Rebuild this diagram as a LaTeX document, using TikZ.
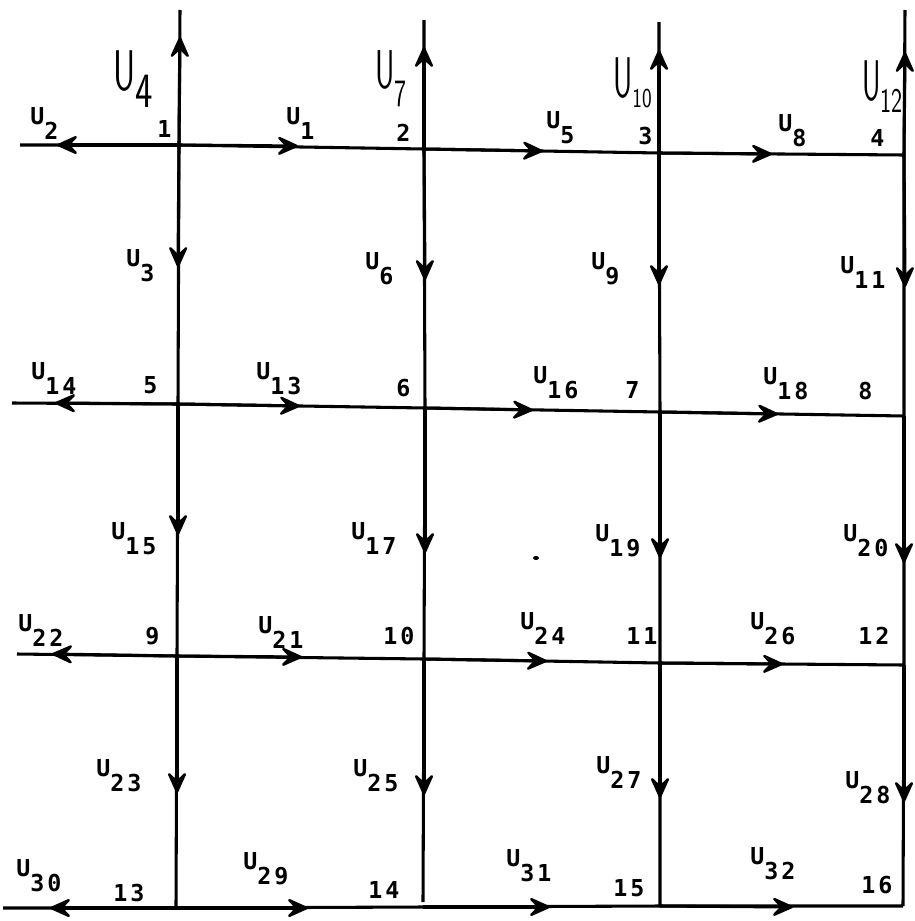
\documentclass[tikz,border=0pt]{standalone}
\usepackage{fontspec}
\usetikzlibrary{arrows.meta}
\newfontfamily\labfont[LetterSpace=13]{DejaVu Sans Mono}
\newcommand{\lbl}[1]{U\raisebox{-11.5pt}{#1}}
\newcommand{\hw}[6]{\scalebox{#2}[1]{\fontsize{#1}{#1}\selectfont U}\raisebox{-#5}{\scalebox{#4}[1]{\fontsize{#3}{#3}\selectfont #6}}}
\begin{document}
\begin{tikzpicture}[x=0.75pt,y=-0.75pt,
  grid/.style={line width=2.3pt},
  arr/.style={line width=2.3pt,-{Stealth[length=19pt,width=17pt,inset=8pt,line width=1.8pt,round]}},
  lab/.style={anchor=north west,inner sep=0pt,font=\labfont\bfseries\fontsize{17.5pt}{17.5pt}\selectfont},
  hand/.style={anchor=north west,inner sep=0pt,font=\sffamily}]
\useasboundingbox (0,0) rectangle (914,921);
% grid points
\coordinate (n1) at (179,145); \coordinate (n2) at (424,149); \coordinate (n3) at (659,153); \coordinate (n4) at (904,155);
\coordinate (n5) at (178,404); \coordinate (n6) at (425,408); \coordinate (n7) at (660,412); \coordinate (n8) at (904,416);
\coordinate (n9) at (177,656); \coordinate (n10) at (424,659); \coordinate (n11) at (660,663); \coordinate (n12) at (904,665);
\coordinate (n13) at (176,908); \coordinate (n14) at (423,907); \coordinate (n15) at (660,906); \coordinate (n16) at (903,906);
% free ends
\coordinate (l1) at (20,145); \coordinate (l2) at (12,403); \coordinate (l3) at (17,654); \coordinate (l4) at (3,908);
\coordinate (t1) at (180,10); \coordinate (t2) at (424,20); \coordinate (t3) at (659,22); \coordinate (t4) at (905,10);
\coordinate (e14) at (423,902);
% lines
\draw[grid] (l1) -- (n1) -- (n2) -- (n3) -- (n4);
\draw[grid] (l2) -- (n5) -- (n6) -- (n7) -- (n8);
\draw[grid] (l3) -- (n9) -- (n10) -- (n11) -- (n12);
\draw[grid] (l4) -- (n13) -- (n14) -- (n15) -- (n16);
\draw[grid] (t1) -- (n1) -- (n5) -- (n9) -- (n13);
\draw[grid] (t2) -- (n2) -- (n6) -- (n10) -- (e14);
\draw[grid] (t3) -- (n3) -- (n7) -- (n11) -- (n15);
\draw[grid] (t4) -- (n4) -- (n8) -- (n12) -- (n16);
% arrow tips
\coordinate (a4) at (180,37); \coordinate (a7) at (424,47); \coordinate (a10) at (659,50); \coordinate (a12) at (905,52);
\coordinate (a1) at (298,146); \coordinate (a5) at (543,151); \coordinate (a8) at (772,154); \coordinate (a2) at (57,145);
\coordinate (a3) at (178,267); \coordinate (a6) at (425,280); \coordinate (a9) at (659,285); \coordinate (a11) at (905,287);
\coordinate (a14) at (55,403); \coordinate (a13) at (300,406); \coordinate (a16) at (533,410); \coordinate (a18) at (778,414);
\coordinate (a15) at (178,535); \coordinate (a17) at (425,553); \coordinate (a19) at (660,558); \coordinate (a20) at (904,563);
\coordinate (a22) at (52,654); \coordinate (a21) at (302,657); \coordinate (a24) at (547,661); \coordinate (a26) at (783,664);
\coordinate (a23) at (177,793); \coordinate (a25) at (424,795); \coordinate (a27) at (660,798); \coordinate (a28) at (904,802);
\coordinate (a30) at (50,908); \coordinate (a29) at (308,908); \coordinate (a31) at (550,907); \coordinate (a32) at (793,907);
% arrows
\draw[arr] (n1) -- (a4); \draw[arr] (n2) -- (a7); \draw[arr] (n3) -- (a10); \draw[arr] (n4) -- (a12);
\draw[arr] (n1) -- (a1); \draw[arr] (n2) -- (a5); \draw[arr] (n3) -- (a8); \draw[arr] (n1) -- (a2);
\draw[arr] (n1) -- (a3); \draw[arr] (n2) -- (a6); \draw[arr] (n3) -- (a9); \draw[arr] (n4) -- (a11);
\draw[arr] (n5) -- (a14); \draw[arr] (n5) -- (a13); \draw[arr] (n6) -- (a16); \draw[arr] (n7) -- (a18);
\draw[arr] (n5) -- (a15); \draw[arr] (n6) -- (a17); \draw[arr] (n7) -- (a19); \draw[arr] (n8) -- (a20);
\draw[arr] (n9) -- (a22); \draw[arr] (n9) -- (a21); \draw[arr] (n10) -- (a24); \draw[arr] (n11) -- (a26);
\draw[arr] (n9) -- (a23); \draw[arr] (n10) -- (a25); \draw[arr] (n11) -- (a27); \draw[arr] (n12) -- (a28);
\draw[arr] (n13) -- (a30); \draw[arr] (n13) -- (a29); \draw[arr] (n14) -- (a31); \draw[arr] (n15) -- (a32);
% handwritten labels
\node[hand] (h4) at (113,50) {\hw{43}{0.6}{37}{0.75}{12.75pt}{4}};
\node[hand] (h7) at (375,50) {\hw{41}{0.55}{29}{0.66}{14pt}{7}};
\node[hand] (h10) at (613,57) {\hw{43}{0.52}{20.5}{0.75}{7.5pt}{10}};
\node[hand] (h12) at (862,60) {\hw{43}{0.5}{26}{0.68}{9pt}{12}};
% U labels
\node[lab] (u1) at (286,107) {\lbl{1}};
\node[lab] (u2) at (30,107) {\lbl{2}};
\node[lab] (u3) at (126,249) {\lbl{3}};
\node[lab] (u5) at (546,111) {\lbl{5}};
\node[lab] (u6) at (365,252) {\lbl{6}};
\node[lab] (u8) at (778,114) {\lbl{8}};
\node[lab] (u9) at (591,252) {\lbl{9}};
\node[lab] (u11) at (840,256) {\lbl{11}};
\node[lab] (u13) at (256,362) {\lbl{13}};
\node[lab] (u14) at (31,362) {\lbl{14}};
\node[lab] (u15) at (111,522) {\lbl{15}};
\node[lab] (u16) at (533,366) {\lbl{16}};
\node[lab] (u17) at (351,522) {\lbl{17}};
\node[lab] (u18) at (763,367) {\lbl{18}};
\node[lab] (u19) at (595,524) {\lbl{19}};
\node[lab] (u20) at (843,524) {\lbl{20}};
\node[lab] (u21) at (258,616) {\lbl{21}};
\node[lab] (u22) at (18,614) {\lbl{22}};
\node[lab] (u23) at (96,759) {\lbl{23}};
\node[lab] (u24) at (520,612) {\lbl{24}};
\node[lab] (u25) at (353,759) {\lbl{25}};
\node[lab] (u26) at (750,612) {\lbl{26}};
\node[lab] (u27) at (596,756) {\lbl{27}};
\node[lab] (u28) at (845,771) {\lbl{28}};
\node[lab] (u29) at (243,852) {\lbl{29}};
\node[lab] (u30) at (16,859) {\lbl{30}};
\node[lab] (u31) at (506,849) {\lbl{31}};
\node[lab] (u32) at (750,847) {\lbl{32}};
% node numbers
\node[lab] (m1) at (157,120) {1};
\node[lab] (m2) at (396,124) {2};
\node[lab] (m3) at (638,127) {3};
\node[lab] (m4) at (870,129) {4};
\node[lab] (m5) at (143,376) {5};
\node[lab] (m6) at (396,379) {6};
\node[lab] (m7) at (625,381) {7};
\node[lab] (m8) at (858,382) {8};
\node[lab] (m9) at (145,627) {9};
\node[lab] (m10) at (383,627) {10};
\node[lab] (m11) at (626,627) {11};
\node[lab] (m12) at (858,627) {12};
\node[lab] (m13) at (113,884) {13};
\node[lab] (m14) at (368,881) {14};
\node[lab] (m15) at (613,879) {15};
\node[lab] (m16) at (861,876) {16};
% speck
\fill (536,558) ellipse (3 and 2);
\end{tikzpicture}
\end{document}
